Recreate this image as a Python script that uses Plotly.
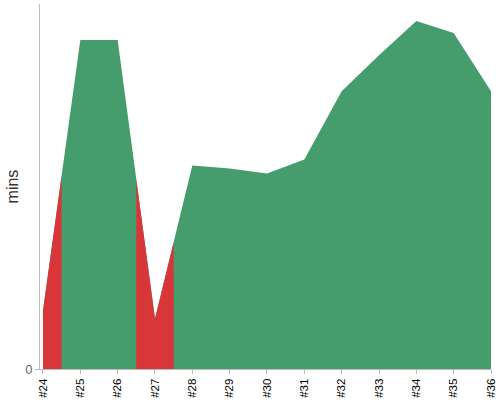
import plotly.graph_objects as go

builds = [24, 25, 26, 27, 28, 29, 30, 31, 32, 33, 34, 35, 36]
tick_labels = ["#" + str(b) for b in builds]
durations = [2.9, 16.4, 16.4, 2.5, 10.15, 10.0, 9.75, 10.45, 13.85, 15.65, 17.35, 16.75, 13.85]
status = ["failed", "ok", "ok", "failed", "ok", "ok", "ok", "ok", "ok", "ok", "ok", "ok", "ok"]
y_title = "mins"

colors = {"ok": "rgb(69,156,108)", "failed": "rgb(216,54,56)"}

fig = go.Figure()
# base area (success colour) under whole line
fig.add_trace(go.Scatter(
    x=builds, y=durations, mode="lines", fill="tozeroy",
    line=dict(width=0, color=colors["ok"]),
    fillcolor=colors["ok"], hoverinfo="skip", showlegend=False,
))

# overlay failed builds, split at midpoints of the line
n = len(builds)
groups = []
for i, s in enumerate(status):
    if groups and groups[-1][0] == s:
        groups[-1][1].append(i)
    else:
        groups.append([s, [i]])
for s, idxs in groups:
    if s == "ok":
        continue
    xs, ys = [], []
    a, b = idxs[0], idxs[-1]
    if a > 0:
        xs.append((builds[a - 1] + builds[a]) / 2)
        ys.append((durations[a - 1] + durations[a]) / 2)
    for i in idxs:
        xs.append(builds[i])
        ys.append(durations[i])
    if b < n - 1:
        xs.append((builds[b] + builds[b + 1]) / 2)
        ys.append((durations[b] + durations[b + 1]) / 2)
    fig.add_trace(go.Scatter(
        x=xs, y=ys, mode="lines", fill="tozeroy",
        line=dict(width=0, color=colors[s]),
        fillcolor=colors[s], hoverinfo="skip", showlegend=False,
    ))

fig.add_annotation(
    text=y_title, textangle=-90, xref="paper", yref="paper",
    x=-0.06, y=0.5, xanchor="center", yanchor="middle", showarrow=False,
    font=dict(family="Liberation Sans", size=16, color="#333"),
)

fig.update_layout(
    width=500, height=400,
    margin=dict(l=40, r=9, t=4, b=31),
    paper_bgcolor="white", plot_bgcolor="white",
    font=dict(family="Liberation Sans", color="#000"),
    xaxis=dict(
        range=[23.92, 36.0], tickmode="array", tickvals=builds, ticktext=tick_labels,
        tickangle=-90, tickfont=dict(family="Liberation Sans", size=11.5, color="#000"),
        showgrid=False, zeroline=False, showline=True, linecolor="#bbb", linewidth=1,
        ticks="outside", ticklen=4, tickcolor="#bbb", automargin=False,
    ),
    yaxis=dict(
        range=[0, 18.2], tickmode="array", tickvals=[0], ticktext=["0"],
        tickfont=dict(family="Liberation Sans", size=13, color="#666"),
        showgrid=False, zeroline=False, showline=True, linecolor="#bbb", linewidth=1,
        ticks="outside", ticklen=4, tickcolor="#bbb", automargin=False,
    ),
)

fig.write_html("out.html", config={"displayModeBar": False},
               post_script="document.body.style.margin='0';")
